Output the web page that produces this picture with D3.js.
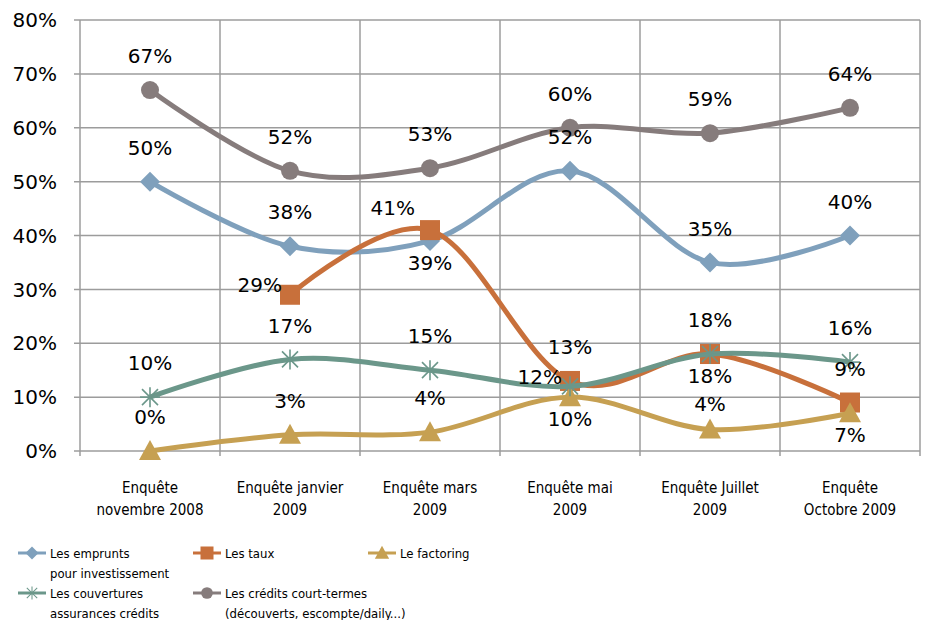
<!DOCTYPE html>
<html>
<head>
<meta charset="utf-8">
<script src="https://cdn.jsdelivr.net/npm/d3@7"></script>
<style>
  body { margin: 0; background: #fff; }
  text { font-family: "DejaVu Sans", sans-serif; fill: #000; }
  .cond { font-family: "DejaVu Sans Condensed", "DejaVu Sans", sans-serif; font-stretch: condensed; }
</style>
</head>
<body>
<script>
// survey waves
var categories = [
  ["Enquête", "novembre 2008"],
  ["Enquête janvier", "2009"],
  ["Enquête mars", "2009"],
  ["Enquête mai", "2009"],
  ["Enquête Juillet", "2009"],
  ["Enquête", "Octobre 2009"]
];

var yTicks = [0, 0.1, 0.2, 0.3, 0.4, 0.5, 0.6, 0.7, 0.8];

var emprunts     = [0.50, 0.38, 0.39, 0.52, 0.35, 0.40];
var taux         = [null, 0.29, 0.41, 0.13, 0.18, 0.09];
var factoring    = [0.00, 0.03, 0.035, 0.10, 0.04, 0.07];
var couvertures  = [0.10, 0.17, 0.15, 0.12, 0.18, 0.165];
var credits      = [0.67, 0.52, 0.525, 0.60, 0.59, 0.637];

var labelsShown = {
  emprunts:    ["50%", "38%", "39%", "52%", "35%", "40%"],
  taux:        [null, "29%", "41%", "13%", "18%", "9%"],
  factoring:   ["0%", "3%", "4%", "10%", "4%", "7%"],
  couvertures: ["10%", "17%", "15%", "12%", "18%", "16%"],
  credits:     ["67%", "52%", "53%", "60%", "59%", "64%"]
};

// where the data label sits relative to the point
var labelPlace = {
  emprunts:    ["t", "t", "b", "t", "t", "t"],
  taux:        [null, "l", "tl", "t", "b", "t"],
  factoring:   ["t", "t", "t", "b", "tn", "b"],
  couvertures: ["t", "t", "t", "l", "t", "t"],
  credits:     ["t", "t", "t", "t", "t", "t"]
};

var series = [
  {key: "emprunts",    name: ["Les emprunts", "pour investissement"], values: emprunts,    color: "#7fa0bc", marker: "diamond"},
  {key: "taux",        name: ["Les taux"],                             values: taux,        color: "#c8703b", marker: "square"},
  {key: "factoring",   name: ["Le factoring"],                         values: factoring,   color: "#c6a052", marker: "triangle"},
  {key: "couvertures", name: ["Les couvertures", "assurances crédits"], values: couvertures, color: "#6b978a", marker: "star"},
  {key: "credits",     name: ["Les crédits court-termes", "(découverts, escompte/daily...)"], values: credits, color: "#867c7c", marker: "circle"}
];
var drawOrder = ["credits", "emprunts", "taux", "factoring", "couvertures"];

var width = 931, height = 620;
var margin = {top: 20, right: 11, bottom: 169, left: 80};
var w = width - margin.left - margin.right,
    h = height - margin.top - margin.bottom;

var svg = d3.select("body").append("svg")
    .attr("width", width)
    .attr("height", height);

var g = svg.append("g")
    .attr("transform", "translate(" + margin.left + "," + margin.top + ")");

var x = d3.scaleBand()
    .domain(d3.range(categories.length))
    .range([0, w]);

var y = d3.scaleLinear()
    .domain([0, 0.8])
    .range([h, 0]);

var cx = function(i) { return x(i) + x.bandwidth() / 2; };

// grid
g.selectAll(".hgrid").data(yTicks).enter().append("line")
    .attr("x1", -6).attr("x2", w)
    .attr("y1", function(d) { return y(d); })
    .attr("y2", function(d) { return y(d); })
    .attr("stroke", "#9c9c9c").attr("stroke-width", 1.5);

g.selectAll(".vgrid").data(d3.range(categories.length + 1)).enter().append("line")
    .attr("x1", function(d) { return d === categories.length ? w : x(d); })
    .attr("x2", function(d) { return d === categories.length ? w : x(d); })
    .attr("y1", 0).attr("y2", h + 5)
    .attr("stroke", "#9c9c9c").attr("stroke-width", 1.5);

// y axis labels
g.selectAll(".ylab").data(yTicks).enter().append("text")
    .attr("x", -23)
    .attr("y", function(d) { return y(d); })
    .attr("dy", "0.36em")
    .attr("text-anchor", "end")
    .style("font-size", "20px")
    .text(d3.format(".0%"));

// category labels
var cat = g.selectAll(".cat").data(categories).enter().append("text")
    .attr("class", "cond")
    .attr("text-anchor", "middle")
    .style("font-size", "15px")
    .attr("transform", function(d, i) { return "translate(" + cx(i) + "," + (h + 42) + ")"; });
cat.selectAll("tspan").data(function(d) { return d; }).enter().append("tspan")
    .attr("x", 0)
    .attr("y", function(d, i) { return i * 22; })
    .text(function(d) { return d; });

function drawMarker(sel, type, color) {
  if (type === "diamond") {
    sel.append("path").attr("d", "M0,-10L10,0L0,10L-10,0Z").attr("fill", color);
  } else if (type === "square") {
    sel.append("rect").attr("x", -10).attr("y", -10).attr("width", 20).attr("height", 20).attr("fill", color);
  } else if (type === "triangle") {
    sel.append("path").attr("d", "M0,-11L11,9L-11,9Z").attr("fill", color);
  } else if (type === "circle") {
    sel.append("circle").attr("r", 9).attr("fill", color);
  } else if (type === "star") {
    var s = sel.append("g").attr("stroke", color).attr("stroke-width", 1.6);
    [[0, -10, 0, 10], [-10, 0, 10, 0], [-8, -8, 8, 8], [-8, 8, 8, -8]].forEach(function(p) {
      s.append("line").attr("x1", p[0]).attr("y1", p[1]).attr("x2", p[2]).attr("y2", p[3]);
    });
  }
}

var byKey = {};
series.forEach(function(s) { byKey[s.key] = s; });

drawOrder.forEach(function(k) {
  var s = byKey[k];
  var sg = g.append("g");
  var pts = s.values.map(function(v, i) { return {v: v, i: i}; }).filter(function(p) { return p.v != null; });
  sg.append("path")
      .datum(pts)
      .attr("fill", "none")
      .attr("stroke", s.color)
      .attr("stroke-width", 5)
      .attr("d", d3.line()
          .x(function(p) { return cx(p.i); })
          .y(function(p) { return y(p.v); })
          .curve(d3.curveCardinal.tension(0)));
  pts.forEach(function(p) {
    var m = sg.append("g").attr("transform", "translate(" + cx(p.i) + "," + y(p.v) + ")");
    drawMarker(m, s.marker, s.color);
  });
});

// data labels
series.forEach(function(s) {
  s.values.forEach(function(v, i) {
    if (v == null) return;
    var place = labelPlace[s.key][i];
    var px = cx(i), py = y(v), anchor = "middle";
    if (place === "t") { py -= 34; }
    else if (place === "tn") { py -= 26; }
    else if (place === "b") { py += 22; }
    else if (place === "l") { px -= 8; py -= 10; anchor = "end"; }
    else if (place === "tl") { px -= 15; py -= 22; anchor = "end"; }
    g.append("text")
        .attr("x", px)
        .attr("y", py)
        .attr("dy", "0.36em")
        .attr("text-anchor", anchor)
        .style("font-size", "20px")
        .text(labelsShown[s.key][i]);
  });
});

// legend
var legendPos = [[18, 553], [193, 553], [368, 553], [18, 593], [193, 593]];
var lg = svg.append("g");
series.forEach(function(s, k) {
  var p = legendPos[k];
  var it = lg.append("g").attr("transform", "translate(" + p[0] + "," + p[1] + ")");
  it.append("line").attr("x1", 0).attr("x2", 28).attr("y1", 0).attr("y2", 0)
      .attr("stroke", s.color).attr("stroke-width", 3);
  var m = it.append("g").attr("transform", "translate(14,0) scale(0.65)");
  drawMarker(m, s.marker, s.color);
  var t = it.append("text").attr("class", "cond").style("font-size", "13px")
      .attr("x", 32).attr("y", 0).attr("dy", "0.36em");
  s.name.forEach(function(n, j) {
    t.append("tspan").attr("x", 32).attr("y", j * 20).attr("dy", "0.36em").text(n);
  });
});
</script>
</body>
</html>
